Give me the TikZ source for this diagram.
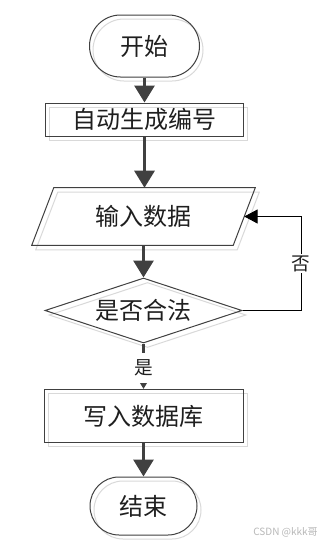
\documentclass[tikz,border=0pt]{standalone}
\usepackage{fontspec}
\newfontfamily\cjk{Noto Sans CJK SC}
\usetikzlibrary{shapes.misc,shapes.geometric,arrows.meta,calc}
\definecolor{edge}{HTML}{404040}
\definecolor{shd}{HTML}{D9D9D9}
\definecolor{wm}{HTML}{B8B8B8}
\begin{document}
\begin{tikzpicture}[x=0.75pt,y=-0.75pt,
  txt/.style={font=\cjk\fontsize{18pt}{20pt}\selectfont, text=black!88},
  outline/.style={draw=edge, line width=0.75pt},
  shadowline/.style={draw=shd, line width=0.75pt},
  termbox/.style={rounded rectangle, inner sep=0pt, minimum width=81pt, minimum height=45pt},
  procbox/.style={rectangle, inner sep=0pt, minimum width=148pt},
  decbox/.style={diamond, aspect=3, inner sep=0pt, minimum width=147.75pt, minimum height=48.75pt},
  bigarrow/.style={draw=edge, line width=2.25pt, -{Triangle[length=12.75pt,width=15pt]}},
  thinarrow/.style={draw=black, line width=0.75pt, -{Triangle[length=10pt,width=10.5pt]}},
  lab/.style={font=\cjk\fontsize{14pt}{15pt}\selectfont, fill=white, inner sep=1pt, text=black!88}
]
\useasboundingbox (0,0) rectangle (321,543);
\fill[white] (0,0) rectangle (321,543);

% shadows
\node[termbox, shadowline, minimum width=82.5pt, minimum height=46.5pt] (startsh) at (148,50) {};
\node[procbox, minimum height=24.75pt, shadowline] (autosh) at (148.5,124) {};
\node[minimum width=150.75pt, minimum height=42.75pt, inner sep=0pt] (inputsh) at (147.5,221) {};
\draw[shadowline] ($(inputsh.north west)+(11,0)$) -- ($(inputsh.north east)+(11,0)$) -- ($(inputsh.south east)+(-11,0)$) -- ($(inputsh.south west)+(-11,0)$) -- cycle;
\node[decbox, shadowline] (checksh) at (147.5,315) {};
\node[procbox, minimum height=39.75pt, minimum width=149.25pt, shadowline] (writesh) at (147.5,420) {};
\node[termbox, shadowline, minimum width=80.25pt, minimum height=43.5pt] (endsh) at (147.5,510) {};

% main shapes
\node[termbox, outline, txt, minimum width=82.5pt, minimum height=46.5pt] (start) at (144.5,46) {开始};
\node[procbox, minimum height=24.75pt, outline, txt] (auto) at (144.5,119.5) {自动生成编号};
\node[minimum width=150.75pt, minimum height=42.75pt, inner sep=0pt, txt] (input) at (143.5,216.5) {输入数据};
\draw[outline] ($(input.north west)+(11,0)$) -- ($(input.north east)+(11,0)$) -- ($(input.south east)+(-11,0)$) -- ($(input.south west)+(-11,0)$) -- cycle;
\node[decbox, outline, txt] (check) at (143.5,310.5) {是否合法};
\node[procbox, minimum height=39.75pt, minimum width=149.25pt, outline, txt] (write) at (143.5,416) {写入数据库};
\node[termbox, outline, txt, minimum width=80.25pt, minimum height=43.5pt] (end) at (143.5,506) {结束};

% connectors
\draw[bigarrow] (start.south) -- (auto.north -| start.south);
\draw[bigarrow] (auto.south -| start.south) -- (input.north -| start.south);
\draw[bigarrow] (input.south) -- (check.north);
\draw[bigarrow] (write.south) -- (end.north);
\coordinate (loopc) at (301,310.5);
\draw[thinarrow] (check.east) -- (loopc) |- node[pos=0.25, lab] {否} (input.east);
\draw[draw=edge, line width=2.25pt, -{Triangle[length=5pt,width=5.5pt]}] (check.south) -- node[lab, minimum height=23pt, pos=0.54] {是} (write.north);

\node[font=\cjk\fontsize{7.5pt}{8pt}\selectfont, text=wm, anchor=east, inner sep=0pt] (wmark) at (318,532) {CSDN @kkk哥};
\end{tikzpicture}
\end{document}
